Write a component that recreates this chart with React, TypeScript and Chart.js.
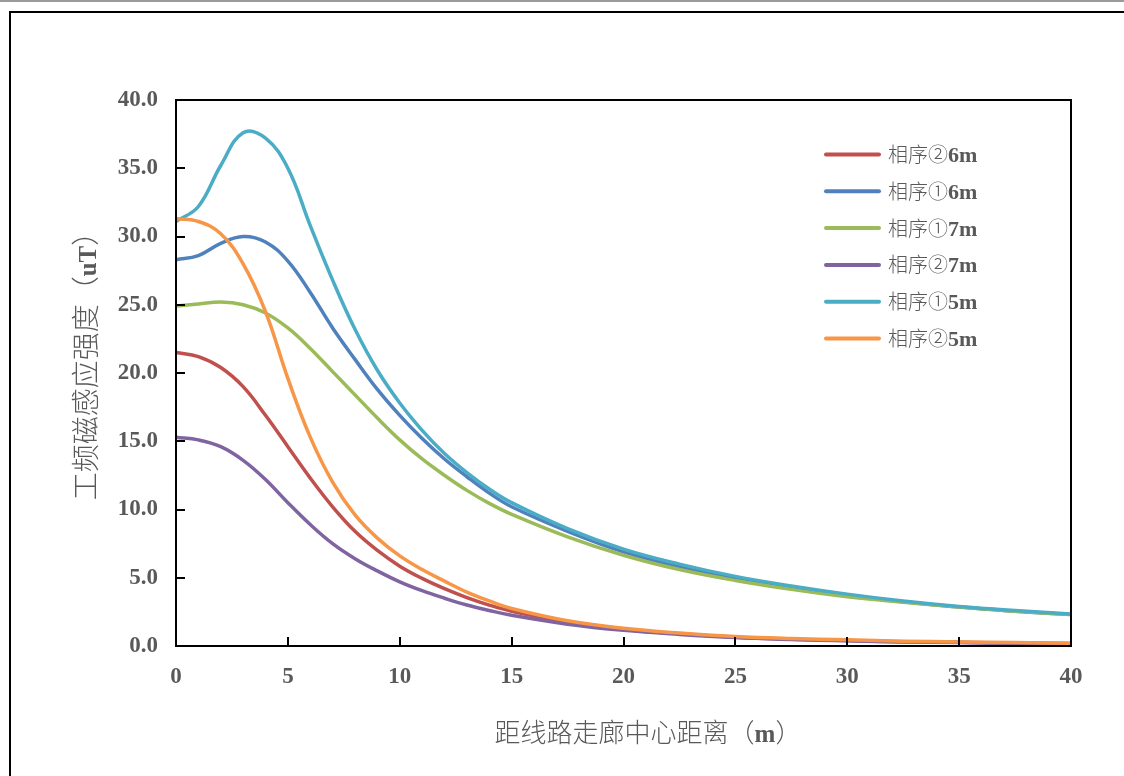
import React, { useEffect, useRef } from "react";
import { Chart, registerables } from "chart.js";

Chart.register(...registerables);

// ---------- data ----------
const distances = [0, 1, 2, 3, 4, 5, 6, 7, 8, 9, 10, 11, 12, 13, 14, 15, 17.5, 20, 22.5, 25, 27.5, 30, 32.5, 35, 37.5, 40];

const seriesLabels = ["相序②6m", "相序①6m", "相序①7m", "相序②7m", "相序①5m", "相序②5m"];
const seriesColors = ["#C0504D", "#4F81BD", "#9BBB59", "#8064A2", "#4BACC6", "#F79646"];

const phase2_6m = [21.5, 21.2, 20.4, 19.0, 16.9, 14.6, 12.3, 10.2, 8.4, 7.0, 5.85, 4.95, 4.2, 3.55, 3.0, 2.55, 1.75, 1.2, 0.9, 0.65, 0.5, 0.4, 0.32, 0.27, 0.22, 0.18];
const phase1_6m = [28.3, 28.6, 29.5, 30.0, 29.6, 28.2, 25.9, 23.3, 21.0, 18.8, 16.9, 15.2, 13.7, 12.4, 11.2, 10.2, 8.4, 6.9, 5.8, 4.95, 4.3, 3.7, 3.25, 2.85, 2.55, 2.3];
const phase1_7m = [24.9, 25.05, 25.2, 25.0, 24.4, 23.3, 21.8, 20.1, 18.4, 16.7, 15.1, 13.7, 12.5, 11.4, 10.45, 9.65, 8.0, 6.65, 5.6, 4.8, 4.15, 3.6, 3.2, 2.85, 2.55, 2.3];
const phase2_7m = [15.3, 15.1, 14.6, 13.6, 12.2, 10.5, 8.9, 7.5, 6.4, 5.5, 4.7, 4.05, 3.5, 3.0, 2.6, 2.25, 1.6, 1.15, 0.85, 0.62, 0.48, 0.38, 0.3, 0.25, 0.2, 0.17];
const phase1_5m = [31.1, 32.2, 35.2, 37.6, 37.2, 35.0, 30.8, 26.8, 23.2, 20.2, 17.8, 15.8, 14.1, 12.7, 11.5, 10.5, 8.6, 7.1, 6.0, 5.1, 4.4, 3.8, 3.3, 2.9, 2.6, 2.35];
const phase2_5m = [31.3, 31.1, 30.2, 28.0, 24.5, 19.6, 15.3, 12.0, 9.6, 7.9, 6.6, 5.6, 4.75, 3.95, 3.3, 2.75, 1.85, 1.3, 0.95, 0.7, 0.55, 0.45, 0.35, 0.3, 0.25, 0.2];

const seriesValues = [phase2_6m, phase1_6m, phase1_7m, phase2_7m, phase1_5m, phase2_5m];

const xMin = 0;
const xMax = 40;
const xStep = 5;
const yMin = 0;
const yMax = 40;
const yStep = 5;

const yTitleRuns = [
  { text: "工频磁感应强度（", latin: false },
  { text: "uT", latin: true },
  { text: "）", latin: false },
];
const xTitleRuns = [
  { text: "距线路走廊中心距离（", latin: false },
  { text: "m", latin: true },
  { text: "）", latin: false },
];

// ---------- styling ----------
const TEXT_COLOR = "#595959";
const LATIN_FONT = "'Liberation Serif', 'Times New Roman', serif";
const CJK_FONT = "'Noto Sans CJK SC', sans-serif";

type Run = { text: string; latin: boolean };

function runFont(r: Run, latinSize: number, cjkSize: number) {
  return r.latin ? `bold ${latinSize}px ${LATIN_FONT}` : `300 ${cjkSize}px ${CJK_FONT}`;
}

function drawRuns(
  ctx: CanvasRenderingContext2D,
  runs: Run[],
  cx: number,
  cy: number,
  latinSize: number,
  cjkSize: number,
  align: "center" | "left"
) {
  let total = 0;
  const widths = runs.map((r) => {
    ctx.font = runFont(r, latinSize, cjkSize);
    const w = ctx.measureText(r.text).width;
    total += w;
    return w;
  });
  let x = align === "center" ? cx - total / 2 : cx;
  ctx.textAlign = "left";
  ctx.textBaseline = "alphabetic";
  ctx.fillStyle = TEXT_COLOR;
  const base = cy + latinSize * 0.34;
  runs.forEach((r, i) => {
    ctx.font = runFont(r, latinSize, cjkSize);
    ctx.fillText(r.text, x, base);
    x += widths[i];
  });
}

function splitLabel(label: string): Run[] {
  const m = label.match(/^(.*?[①②③])(.*)$/);
  if (!m) return [{ text: label, latin: false }];
  return [
    { text: m[1], latin: false },
    { text: m[2], latin: true },
  ];
}

const decorPlugin = {
  id: "decor",
  afterDraw(chart: any) {
    const { ctx, chartArea } = chart;
    const { left, right, top, bottom } = chartArea;
    const xs = chart.scales.x;
    const ys = chart.scales.y;
    ctx.save();
    // plot frame
    ctx.strokeStyle = "#000";
    ctx.lineWidth = 2;
    ctx.strokeRect(left, top, right - left, bottom - top);
    // inward ticks
    ctx.beginPath();
    for (let v = yMin + yStep; v < yMax; v += yStep) {
      const y = Math.round(ys.getPixelForValue(v));
      ctx.moveTo(left, y);
      ctx.lineTo(left + 9, y);
    }
    for (let v = xMin + xStep; v < xMax; v += xStep) {
      const x = Math.round(xs.getPixelForValue(v));
      ctx.moveTo(x, bottom);
      ctx.lineTo(x, bottom - 9);
    }
    ctx.stroke();

    // legend
    const legX = 824;
    const legY0 = 154.5;
    const legDy = 36.8;
    chart.data.datasets.forEach((ds: any, i: number) => {
      const y = legY0 + i * legDy;
      ctx.strokeStyle = ds.borderColor;
      ctx.lineWidth = 4;
      ctx.lineCap = "round";
      ctx.beginPath();
      ctx.moveTo(legX + 2, y);
      ctx.lineTo(legX + 55, y);
      ctx.stroke();
      drawRuns(ctx, splitLabel(ds.label), legX + 64, y, 22, 20, "left");
    });

    // axis titles
    drawRuns(ctx, xTitleRuns, 648, 733, 25, 26, "center");
    ctx.save();
    ctx.translate(87, 359);
    ctx.rotate(-Math.PI / 2);
    drawRuns(ctx, yTitleRuns, 0, 0, 25, 28, "center");
    ctx.restore();

    ctx.restore();
  },
};

export default function App() {
  const canvasRef = useRef<HTMLCanvasElement | null>(null);

  useEffect(() => {
    const canvas = canvasRef.current;
    if (!canvas) return;
    const datasets = seriesLabels.map((label, i) => ({
      label,
      data: distances.map((d, j) => ({ x: d, y: seriesValues[i][j] })),
      borderColor: seriesColors[i],
      backgroundColor: seriesColors[i],
      borderWidth: 3.5,
      pointRadius: 0,
      fill: false,
      tension: 0.4,
      order: seriesLabels.length - i,
    }));
    const chart = new Chart(canvas, {
      type: "line",
      data: { datasets },
      options: {
        animation: false,
        responsive: false,
        maintainAspectRatio: false,
        devicePixelRatio: 1,
        layout: { padding: { left: 0, top: 100, right: 53, bottom: 0 } },
        plugins: { legend: { display: false }, tooltip: { enabled: false } },
        scales: {
          x: {
            type: "linear",
            min: xMin,
            max: xMax,
            afterFit: (s: any) => {
              s.height = 130;
            },
            grid: { display: false, drawTicks: false },
            border: { display: false },
            ticks: {
              stepSize: xStep,
              padding: 17,
              color: TEXT_COLOR,
              font: { family: LATIN_FONT, size: 23, weight: "bold" },
              maxRotation: 0,
            },
          },
          y: {
            type: "linear",
            min: yMin,
            max: yMax,
            afterFit: (s: any) => {
              s.width = 176;
            },
            grid: { display: false, drawTicks: false },
            border: { display: false },
            ticks: {
              stepSize: yStep,
              padding: 18,
              color: TEXT_COLOR,
              font: { family: LATIN_FONT, size: 23, weight: "bold" },
              callback: (v: any) => Number(v).toFixed(1),
            },
          },
        },
      },
      plugins: [decorPlugin],
    });
    return () => chart.destroy();
  }, []);

  return (
    <div style={{ position: "absolute", left: 0, top: 0, width: 1124, height: 776, overflow: "hidden", background: "#fff" }}>
      <div style={{ position: "absolute", left: 0, top: 0, width: 1124, height: 2, background: "#9a9a9a" }} />
      <div
        style={{
          position: "absolute",
          left: 9,
          top: 11,
          width: 1115,
          height: 765,
          boxSizing: "border-box",
          borderLeft: "2px solid #000",
          borderTop: "2px solid #000",
        }}
      />
      <canvas ref={canvasRef} width={1124} height={776} style={{ position: "absolute", left: 0, top: 0, width: 1124, height: 776 }} />
    </div>
  );
}
